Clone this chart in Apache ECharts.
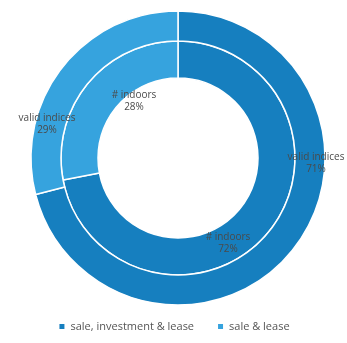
<!DOCTYPE html>
<html>
<head>
<meta charset="utf-8">
<script src="https://cdn.jsdelivr.net/npm/echarts@6/dist/echarts.min.js"></script>
<style>
  html, body { margin: 0; padding: 0; background: #fff; }
  #chart { width: 347px; height: 343px; }
</style>
</head>
<body>
<div id="chart"></div>
<script>
// legend categories (dark first, light second)
const categories = ['sale, investment & lease', 'sale & lease'];
const colors = ['#167fbf', '#36a3de'];

// outer ring
const outerValues = [71, 29];
const outerLabels = ['valid indices', 'valid indices'];

// inner ring
const innerValues = [72, 28];
const innerLabels = ['# indoors', '# indoors'];

// where each label sits (px), roughly as in the picture
const outerLabelPos = [[316, 163], [47, 124]];
const innerLabelPos = [[228, 243], [134, 101]];

const chart = echarts.init(document.getElementById('chart'));

function ringData(values, labels) {
  return values.map((v, i) => ({
    name: categories[i],
    value: v,
    labelText: labels[i],
    itemStyle: { color: colors[i] }
  }));
}

const labelStyle = {
  show: true,
  position: 'inside',
  color: '#4a4a4a',
  fontSize: 10,
  lineHeight: 12,
  fontFamily: 'Open Sans',
  formatter: p => p.data.labelText + '\n' + p.percent.toFixed(0) + '%'
};

const option = {
  animation: false,
  legend: {
    bottom: 6,
    left: 'center',
    itemWidth: 7,
    itemHeight: 7,
    itemGap: 22,
    icon: 'rect',
    textStyle: { color: '#555', fontSize: 11, fontFamily: 'Open Sans' },
    data: categories
  },
  series: [
    {
      type: 'pie',
      name: 'inner',
      center: [178, 158],
      radius: [80, 117],
      startAngle: 90,
      clockwise: true,
      silent: true,
      itemStyle: { borderColor: '#fff', borderWidth: 1.5 },
      label: labelStyle,
      labelLine: { show: false },
      labelLayout: p => ({ x: innerLabelPos[p.dataIndex][0], y: innerLabelPos[p.dataIndex][1], align: 'center', verticalAlign: 'middle' }),
      data: ringData(innerValues, innerLabels)
    },
    {
      type: 'pie',
      name: 'outer',
      center: [178, 158],
      radius: [117, 147],
      startAngle: 90,
      clockwise: true,
      silent: true,
      itemStyle: { borderColor: '#fff', borderWidth: 1.5 },
      label: labelStyle,
      labelLine: { show: false },
      labelLayout: p => ({ x: outerLabelPos[p.dataIndex][0], y: outerLabelPos[p.dataIndex][1], align: 'center', verticalAlign: 'middle' }),
      data: ringData(outerValues, outerLabels)
    }
  ]
};

chart.setOption(option);
</script>
</body>
</html>
